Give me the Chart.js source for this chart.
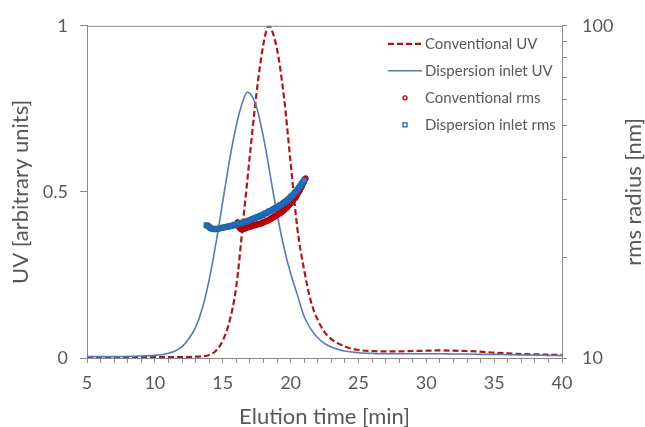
<!DOCTYPE html>
<html>
<head>
<meta charset="utf-8">
<script src="https://cdn.jsdelivr.net/npm/chart.js@4.4.1/dist/chart.umd.min.js"></script>
<style>
  html, body { margin: 0; padding: 0; background: #fff; }
  #wrap { width: 645px; height: 427px; }
</style>
</head>
<body>
<div id="wrap"><canvas id="elutionChart"></canvas></div>
<script>
// elution time grid for the UV traces [min]
const timeUV = [5, 6, 7, 8, 9, 10, 10.5, 11, 11.5, 12, 12.5, 13, 13.5, 14, 14.5, 15, 15.5, 16, 16.5, 16.8, 17, 17.5,
    18, 18.4, 18.5, 19, 19.5, 20, 20.5, 21, 21.5, 22, 22.5, 23, 23.5, 24, 24.5, 25, 26, 27, 28, 29, 30, 31, 32, 33,
    34, 35, 36, 37, 38, 39, 40];

const conventionalUV = [0.003, 0.003, 0.003, 0.003, 0.003, 0.003, 0.003, 0.003, 0.003, 0.003, 0.003, 0.004, 0.005,
    0.009, 0.022, 0.052, 0.11, 0.215, 0.41, 0.53, 0.61, 0.80, 0.945, 1.0, 0.997, 0.93, 0.79, 0.59, 0.39, 0.265, 0.17,
    0.115, 0.078, 0.057, 0.044, 0.035, 0.028, 0.024, 0.021, 0.020, 0.020, 0.021, 0.022, 0.023, 0.022, 0.021, 0.019,
    0.016, 0.014, 0.012, 0.011, 0.010, 0.009];

const dispersionUV = [0.004, 0.004, 0.004, 0.005, 0.006, 0.008, 0.010, 0.014, 0.021, 0.034, 0.058, 0.092, 0.15,
    0.235, 0.345, 0.47, 0.595, 0.70, 0.775, 0.80, 0.797, 0.755, 0.665, 0.575, 0.55, 0.435, 0.335, 0.255, 0.19, 0.125,
    0.087, 0.061, 0.044, 0.033, 0.026, 0.021, 0.018, 0.016, 0.014, 0.013, 0.013, 0.013, 0.013, 0.013, 0.012, 0.012,
    0.011, 0.011, 0.010, 0.009, 0.009, 0.008, 0.007];

// rms radius [nm], conventional setup
const timeConvRms = [16.1, 16.2, 16.3, 16.4, 16.5, 16.6, 16.7, 16.8, 16.9, 17.0, 17.1, 17.2, 17.3, 17.4, 17.5, 17.6,
    17.7, 17.8, 17.9, 18.0, 18.1, 18.2, 18.3, 18.4, 18.5, 18.6, 18.7, 18.8, 18.9, 19.0, 19.1, 19.2, 19.3, 19.4, 19.5,
    19.6, 19.7, 19.8, 19.9, 20.0, 20.1, 20.2, 20.3, 20.4, 20.5, 20.6, 20.7, 20.8, 20.9, 21.0, 21.1];
const conventionalRms = [25.6, 24.8, 24.5, 24.4, 24.4, 24.5, 24.6, 24.7, 24.8, 24.9, 24.9, 25.0, 25.1, 25.1, 25.2,
    25.3, 25.3, 25.4, 25.5, 25.6, 25.7, 25.8, 25.9, 26.0, 26.2, 26.3, 26.5, 26.6, 26.8, 26.9, 27.1, 27.3, 27.4, 27.6,
    27.8, 28.1, 28.3, 28.6, 28.9, 29.2, 29.5, 29.9, 30.2, 30.6, 31.1, 31.6, 32.1, 32.7, 33.4, 34.0, 34.7];

// rms radius [nm], dispersion inlet
const timeDispRms = [13.8, 13.9, 14.0, 14.1, 14.2, 14.3, 14.4, 14.5, 14.6, 14.7, 14.8, 14.9, 15.0, 15.1, 15.2, 15.3,
    15.4, 15.5, 15.6, 15.7, 15.8, 15.9, 16.0, 16.1, 16.2, 16.3, 16.4, 16.5, 16.6, 16.7, 16.8, 16.9, 17.0, 17.1, 17.2,
    17.3, 17.4, 17.5, 17.6, 17.7, 17.8, 17.9, 18.0, 18.1, 18.2, 18.3, 18.4, 18.5, 18.6, 18.7, 18.8, 18.9, 19.0, 19.1,
    19.2, 19.3, 19.4, 19.5, 19.6, 19.7, 19.8, 19.9, 20.0, 20.1, 20.2, 20.3, 20.4, 20.5, 20.6, 20.7, 20.8, 20.9, 21.0];
const dispersionRms = [25.1, 25.0, 24.8, 24.6, 24.5, 24.5, 24.4, 24.4, 24.5, 24.5, 24.6, 24.6, 24.7, 24.7, 24.8, 24.8,
    24.9, 24.9, 25.0, 25.0, 25.1, 25.2, 25.2, 25.3, 25.4, 25.4, 25.5, 25.6, 25.7, 25.7, 25.8, 25.9, 26.0, 26.1, 26.2,
    26.3, 26.4, 26.5, 26.6, 26.7, 26.8, 26.9, 27.0, 27.2, 27.3, 27.4, 27.6, 27.7, 27.8, 28.0, 28.1, 28.3, 28.4, 28.6,
    28.8, 28.9, 29.1, 29.3, 29.5, 29.7, 29.9, 30.2, 30.5, 30.7, 31.0, 31.4, 31.7, 32.1, 32.5, 32.9, 33.4, 33.8, 34.3];

const xTickLabels = [5, 10, 15, 20, 25, 30, 35, 40];
const uvTickLabels = [0, 0.5, 1];
const rmsTickValues = [10, 20, 30, 40, 50, 60, 70, 80, 90, 100];
const rmsTickLabels = [10, 100];

const pairs = (xs, ys) => xs.map((x, i) => ({ x: x, y: ys[i] }));

const axisGrey = '#898989';
const textGrey = '#595959';
const fontFamily = 'Lato, "Open Sans", sans-serif';

// legend inside the plot + right axis title that reads bottom to top
const overlayText = {
    id: 'overlayText',
    afterDraw(chart) {
        const { ctx, chartArea } = chart;
        ctx.save();

        // top frame line
        ctx.strokeStyle = axisGrey;
        ctx.lineWidth = 1;
        ctx.beginPath();
        ctx.moveTo(chartArea.left, chartArea.top + 0.5);
        ctx.lineTo(chartArea.right, chartArea.top + 0.5);
        ctx.stroke();

        ctx.fillStyle = textGrey;
        ctx.font = '22px ' + fontFamily;
        ctx.textAlign = 'center';
        ctx.textBaseline = 'middle';
        ctx.translate(634, (chartArea.top + chartArea.bottom) / 2);
        ctx.rotate(-Math.PI / 2);
        ctx.fillText('rms radius [nm]', 0, 0);
        ctx.restore();

        ctx.save();
        ctx.font = '15px ' + fontFamily;
        ctx.textBaseline = 'middle';
        ctx.textAlign = 'left';
        chart.data.datasets.forEach((ds, i) => {
            const y = chartArea.top + 18 + i * 27;
            const x0 = chartArea.right - 174;
            ctx.strokeStyle = ds.borderColor;
            ctx.fillStyle = ds.backgroundColor;
            if (ds.showLine === false) {
                ctx.lineWidth = 1.3;
                ctx.setLineDash([]);
                if (ds.pointStyle === 'rect') {
                    ctx.strokeRect(x0 + 15, y - 2, 4, 4);
                } else {
                    ctx.beginPath();
                    ctx.arc(x0 + 17, y, 2, 0, Math.PI * 2);
                    ctx.stroke();
                }
            } else {
                ctx.lineWidth = ds.borderWidth;
                ctx.setLineDash(ds.borderDash || []);
                ctx.beginPath();
                ctx.moveTo(x0, y);
                ctx.lineTo(x0 + 34, y);
                ctx.stroke();
            }
            ctx.setLineDash([]);
            ctx.fillStyle = textGrey;
            ctx.fillText(ds.label, x0 + 37, y);
        });
        ctx.restore();
    }
};

const ctx = document.getElementById('elutionChart');

new Chart(ctx.getContext('2d'), {
    type: 'line',
    data: {
        datasets: [
            {
                label: 'Conventional UV',
                data: pairs(timeUV, conventionalUV),
                yAxisID: 'y',
                borderColor: '#A8181E',
                backgroundColor: '#A8181E',
                borderWidth: 2.2,
                borderDash: [6, 3],
                pointRadius: 0,
                cubicInterpolationMode: 'monotone',
                order: 3
            },
            {
                label: 'Dispersion inlet UV',
                data: pairs(timeUV, dispersionUV),
                yAxisID: 'y',
                borderColor: '#5D78B0',
                backgroundColor: '#5D78B0',
                borderWidth: 1.6,
                pointRadius: 0,
                cubicInterpolationMode: 'monotone',
                order: 2
            },
            {
                label: 'Conventional rms',
                data: pairs(timeConvRms, conventionalRms),
                yAxisID: 'y2',
                showLine: false,
                pointStyle: 'circle',
                pointRadius: 2.8,
                borderColor: '#B00000',
                backgroundColor: '#D00000',
                borderWidth: 1,
                order: 1
            },
            {
                label: 'Dispersion inlet rms',
                data: pairs(timeDispRms, dispersionRms),
                yAxisID: 'y2',
                showLine: false,
                pointStyle: 'rect',
                pointRadius: 3.4,
                borderColor: '#1E64AC',
                backgroundColor: '#2F7CC6',
                borderWidth: 1,
                order: 0
            }
        ]
    },
    options: {
        responsive: true,
        maintainAspectRatio: false,
        animation: false,
        layout: {
            padding: { top: 19, left: 0, right: 0, bottom: 0 }
        },
        plugins: {
            legend: { display: false },
            tooltip: { enabled: false }
        },
        scales: {
            x: {
                type: 'linear',
                min: 5,
                max: 40,
                afterFit: scale => { scale.height = 69; },
                ticks: {
                    stepSize: 1,
                    autoSkip: false,
                    maxRotation: 0,
                    padding: 9,
                    color: textGrey,
                    font: { family: fontFamily, size: 18 },
                    callback: v => xTickLabels.includes(v) ? v : ''
                },
                grid: { drawOnChartArea: false, tickLength: 5, color: axisGrey },
                border: { color: axisGrey },
                title: {
                    display: true,
                    text: 'Elution time [min]',
                    color: textGrey,
                    font: { family: fontFamily, size: 22 },
                    padding: { top: 0, bottom: -3 }
                }
            },
            y: {
                position: 'left',
                min: 0,
                max: 1,
                afterFit: scale => { scale.width = 87; },
                ticks: {
                    stepSize: 0.5,
                    padding: 12,
                    color: textGrey,
                    font: { family: fontFamily, size: 18 },
                    callback: v => uvTickLabels.includes(v) ? v : ''
                },
                grid: { drawOnChartArea: false, tickLength: 7, color: axisGrey },
                border: { color: axisGrey },
                title: {
                    display: true,
                    text: 'UV [arbitrary units]',
                    color: textGrey,
                    font: { family: fontFamily, size: 22 },
                    padding: { top: 8, bottom: 0 }
                }
            },
            y2: {
                type: 'logarithmic',
                position: 'right',
                min: 10,
                max: 100,
                afterFit: scale => { scale.width = 83; },
                afterBuildTicks: scale => {
                    scale.ticks = rmsTickValues.map(v => ({ value: v }));
                },
                ticks: {
                    autoSkip: false,
                    padding: 15,
                    color: textGrey,
                    font: { family: fontFamily, size: 18 },
                    callback: v => rmsTickLabels.includes(v) ? v : ''
                },
                grid: { drawOnChartArea: false, tickLength: 5, color: axisGrey },
                border: { color: axisGrey }
            }
        }
    },
    plugins: [overlayText]
});
</script>
</body>
</html>
